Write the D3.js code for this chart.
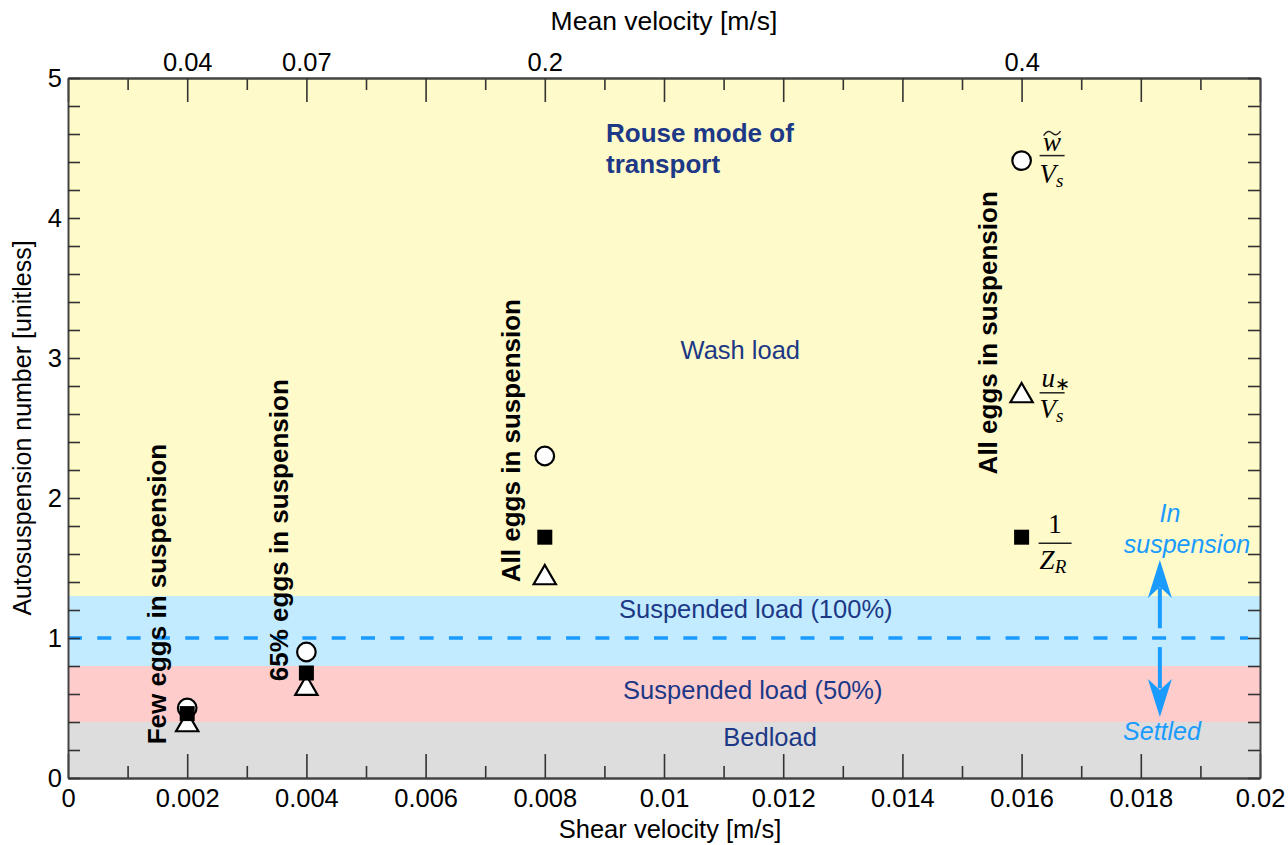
<!DOCTYPE html>
<html><head><meta charset="utf-8">
<script src="https://cdn.jsdelivr.net/npm/d3@7"></script>
<style>body{margin:0;background:#fff}</style></head>
<body>
<svg id="c" width="1288" height="845"></svg>
<script>
// ---- data ----
const shearVelocity = [0.002, 0.004, 0.008, 0.016];
const circleVals   = [0.50, 0.90, 2.30, 4.41];   // w~ / Vs
const squareVals   = [0.46, 0.75, 1.72, 1.72];   // 1 / Z_R
const triangleVals = [0.38, 0.64, 1.43, 2.73];   // u* / Vs
const meanVelocityLabels = ["0.04", "0.07", "0.2", "0.4"];
const xMajorTicks = [0, 0.002, 0.004, 0.006, 0.008, 0.01, 0.012, 0.014, 0.016, 0.018, 0.02];
const xMinorTicks = [0.001, 0.003, 0.005, 0.007, 0.009, 0.011, 0.013, 0.015, 0.017, 0.019];
const yTicks = d3.range(0, 26).map(i => +(i * 0.2).toFixed(1));
const yLabels = [0, 1, 2, 3, 4, 5];
const bandLow  = [0, 0.4, 0.8, 1.3];
const bandHigh = [0.4, 0.8, 1.3, 5];
const bandColors = ["#dddddd", "#ffcccc", "#c2ebff", "#fffac9"];
const bandLabels = ["Bedload", "Suspended load (50%)", "Suspended load (100%)", "Wash load"];
const eggLabels = ["Few eggs in suspension", "65% eggs in suspension", "All eggs in suspension", "All eggs in suspension"];
const thresholdValue = 1;

// ---- layout ----
const W = 1288, H = 845;
const m = {left: 68, right: 28, top: 78, bottom: 67};
const svg = d3.select("#c");
const x = d3.scaleLinear().domain([0, 0.02]).range([m.left, W - m.right]);
const y = d3.scaleLinear().domain([0, 5]).range([H - m.bottom, m.top]);
const SANS = "'Liberation Sans', Arial, Helvetica, sans-serif";
const SERIF = "'Liberation Serif', 'Times New Roman', serif";
const NAVY = "#1c3886", BLUE = "#1a9bff";

// bands
svg.append("g").selectAll("rect").data(bandLow).join("rect")
  .attr("x", x(0)).attr("width", x(0.02) - x(0))
  .attr("y", (d, i) => y(bandHigh[i])).attr("height", (d, i) => y(d) - y(bandHigh[i]))
  .attr("fill", (d, i) => bandColors[i]);

// threshold dashed line
svg.append("line").attr("x1", x(0)).attr("x2", x(0.0198))
  .attr("y1", y(thresholdValue)).attr("y2", y(thresholdValue))
  .attr("stroke", BLUE).attr("stroke-width", 3.5).attr("stroke-dasharray", "14,15.3");

// band labels
const bandLabelPos = [[0.01178, 0.23], [0.01149, 0.565], [0.01154, 1.14], [0.01128, 2.99]];
svg.append("g").selectAll("text").data(bandLabels).join("text")
  .attr("x", (d, i) => x(bandLabelPos[i][0])).attr("y", (d, i) => y(bandLabelPos[i][1]))
  .attr("text-anchor", "middle").attr("font-family", SANS).attr("font-size", 25.5)
  .attr("fill", NAVY).text(d => d);

// Rouse mode of transport
const rouse = svg.append("text").attr("font-family", SANS).attr("font-size", 26)
  .attr("font-weight", "bold").attr("fill", NAVY);
rouse.append("tspan").attr("x", 606).attr("y", 142).text("Rouse mode of");
rouse.append("tspan").attr("x", 606).attr("y", 173).text("transport");

// rotated egg labels
const eggOffsetX = [-21, -18, -25, -25];
const eggCenterY = [1.314, 1.77, 2.41, 3.18];
svg.append("g").selectAll("text").data(eggLabels).join("text")
  .attr("transform", (d, i) => `translate(${x(shearVelocity[i]) + eggOffsetX[i]},${y(eggCenterY[i])}) rotate(-90)`)
  .attr("text-anchor", "middle").attr("font-family", SANS).attr("font-size", 26)
  .attr("font-weight", "bold").attr("fill", "#000").text(d => d);

// markers
const pts = svg.append("g");
pts.selectAll("circle").data(shearVelocity).join("circle")
  .attr("cx", d => x(d)).attr("cy", (d, i) => y(circleVals[i])).attr("r", 9.3)
  .attr("fill", "#fff").attr("stroke", "#000").attr("stroke-width", 2.2);
const tri = d3.symbol().type(d3.symbolTriangle).size(215);
pts.selectAll("path.tri").data(shearVelocity).join("path").attr("class", "tri")
  .attr("d", tri).attr("transform", (d, i) => `translate(${x(d)},${y(triangleVals[i])})`)
  .attr("fill", "#fff").attr("stroke", "#000").attr("stroke-width", 2.2);
pts.selectAll("rect").data(shearVelocity).join("rect")
  .attr("x", d => x(d) - 7.5).attr("y", (d, i) => y(squareVals[i]) - 7.5)
  .attr("width", 15).attr("height", 15).attr("fill", "#000");

// fraction labels
function frac(px, py, width) {
  const g = svg.append("g").attr("transform", `translate(${px},${py})`);
  g.append("line").attr("x1", 0).attr("x2", width).attr("y1", 0).attr("y2", 0)
    .attr("stroke", "#222").attr("stroke-width", 1.5);
  return g;
}
{ // w~ / Vs
  const g = frac(x(0.016) + 18, y(circleVals[3]) - 5, 25);
  g.append("text").attr("x", 12.5).attr("y", -5).attr("text-anchor", "middle")
    .attr("font-family", SERIF).attr("font-style", "italic").attr("font-size", 27).text("w");
  g.append("path").attr("d", "M4,-20 C7,-25 10,-25 12.5,-22.5 C15,-20 18,-20 21,-24.5")
    .attr("fill", "none").attr("stroke", "#222").attr("stroke-width", 1.4);
  const t = g.append("text").attr("x", 0).attr("y", 27).attr("font-family", SERIF)
    .attr("font-style", "italic").attr("font-size", 27);
  t.append("tspan").text("V");
  t.append("tspan").attr("font-size", 19).attr("dy", 4).text("s");
}
{ // u* / Vs
  const g = frac(x(0.016) + 18, y(triangleVals[3]) - 3, 25);
  const n = g.append("text").attr("x", 2).attr("y", -6).attr("font-family", SERIF)
    .attr("font-style", "italic").attr("font-size", 27);
  n.append("tspan").text("u");
  n.append("tspan").attr("font-size", 18).attr("dy", 3).attr("font-style", "normal").text("∗");
  const t = g.append("text").attr("x", 0).attr("y", 25).attr("font-family", SERIF)
    .attr("font-style", "italic").attr("font-size", 27);
  t.append("tspan").text("V");
  t.append("tspan").attr("font-size", 19).attr("dy", 4).text("s");
}
{ // 1 / Z_R
  const g = frac(x(0.016) + 17, y(squareVals[3]) + 6, 33);
  g.append("text").attr("x", 16.5).attr("y", -10).attr("text-anchor", "middle")
    .attr("font-family", SERIF).attr("font-size", 27).text("1");
  const t = g.append("text").attr("x", 1).attr("y", 26).attr("font-family", SERIF)
    .attr("font-style", "italic").attr("font-size", 27);
  t.append("tspan").text("Z");
  t.append("tspan").attr("font-size", 19).attr("dy", 4).text("R");
}

// arrows
const ax = x(0.01832);
const arrowG = svg.append("g").attr("fill", BLUE).attr("stroke", BLUE);
arrowG.append("line").attr("x1", ax).attr("x2", ax).attr("y1", y(1.07)).attr("y2", y(1.36))
  .attr("stroke-width", 4);
arrowG.append("line").attr("x1", ax).attr("x2", ax).attr("y1", y(0.935)).attr("y2", y(0.64))
  .attr("stroke-width", 4);
const upTip = y(1.557), dnTip = y(0.436);
arrowG.append("path").attr("stroke", "none")
  .attr("d", `M${ax},${upTip} L${ax + 12},${upTip + 38} L${ax},${upTip + 27} L${ax - 12},${upTip + 38} Z`);
arrowG.append("path").attr("stroke", "none")
  .attr("d", `M${ax},${dnTip} L${ax + 12},${dnTip - 38} L${ax},${dnTip - 27} L${ax - 12},${dnTip - 38} Z`);

const blueText = svg.append("g").attr("font-family", SANS).attr("font-style", "italic")
  .attr("font-size", 25).attr("fill", BLUE).attr("text-anchor", "middle");
blueText.append("text").attr("x", 1170).attr("y", 522).text("In");
blueText.append("text").attr("x", 1187).attr("y", 553).text("suspension");
blueText.append("text").attr("x", 1162).attr("y", 740).text("Settled");

// ---- axes ----
function styleAxis(g) {
  g.selectAll(".domain").attr("stroke", "#444").attr("stroke-width", 2);
  g.selectAll(".tick line").attr("stroke", "#333").attr("stroke-width", 1.6);
  g.selectAll(".tick text").attr("font-family", SANS).attr("font-size", 25.5).attr("fill", "#000");
}
const fmtX = d => d === 0 ? "0" : d3.format("~g")(d);
svg.append("g").attr("transform", `translate(0,${y(0)})`)
  .call(d3.axisBottom(x).tickValues(xMinorTicks).tickSize(-12).tickFormat("").tickSizeOuter(0))
  .call(styleAxis);
svg.append("g").attr("transform", `translate(0,${y(0)})`)
  .call(d3.axisBottom(x).tickValues(xMajorTicks).tickSize(-24).tickPadding(11).tickFormat(fmtX).tickSizeOuter(0))
  .call(styleAxis);
svg.append("g").attr("transform", `translate(0,${y(5)})`)
  .call(d3.axisTop(x).tickValues(xMinorTicks).tickSize(-12).tickFormat("").tickSizeOuter(0))
  .call(styleAxis);
svg.append("g").attr("transform", `translate(0,${y(5)})`)
  .call(d3.axisTop(x).tickValues(xMajorTicks).tickSize(-24).tickPadding(7).tickSizeOuter(0)
    .tickFormat(d => { const i = shearVelocity.findIndex(s => Math.abs(s - d) < 1e-9); return i >= 0 ? meanVelocityLabels[i] : ""; }))
  .call(styleAxis);
svg.append("g").attr("transform", `translate(${x(0)},0)`)
  .call(d3.axisLeft(y).tickValues(yTicks).tickSize(-12).tickPadding(6).tickSizeOuter(0)
    .tickFormat(d => yLabels.includes(d) ? String(d) : ""))
  .call(styleAxis);
svg.append("g").attr("transform", `translate(${x(0.02)},0)`)
  .call(d3.axisRight(y).tickValues(yTicks).tickSize(-12).tickFormat("").tickSizeOuter(0))
  .call(styleAxis);

// axis titles
svg.append("text").attr("x", 670).attr("y", 838).attr("text-anchor", "middle")
  .attr("font-family", SANS).attr("font-size", 25.5).text("Shear velocity [m/s]");
svg.append("text").attr("x", (x(0) + x(0.02)) / 2).attr("y", 30).attr("text-anchor", "middle")
  .attr("font-family", SANS).attr("font-size", 26.5).text("Mean velocity [m/s]");
svg.append("text").attr("transform", `translate(31,${(y(0) + y(5)) / 2}) rotate(-90)`)
  .attr("text-anchor", "middle").attr("font-family", SANS).attr("font-size", 25)
  .text("Autosuspension number [unitless]");
</script>
</body></html>
